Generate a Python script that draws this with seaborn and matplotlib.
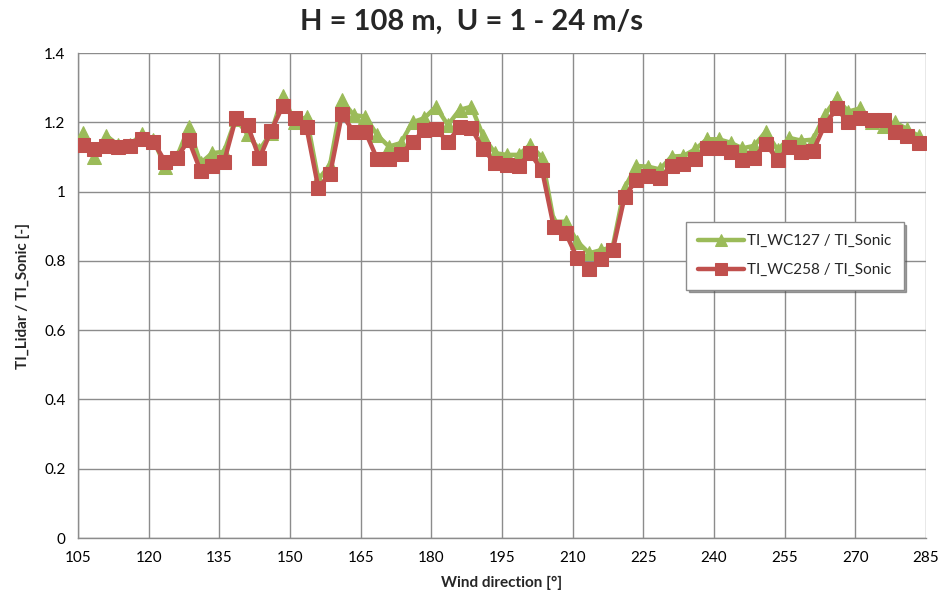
import numpy as np
import pandas as pd
import matplotlib
matplotlib.use("Agg")
import matplotlib.pyplot as plt
import seaborn as sns

# Wind direction bins [deg]
direction = [106 + 2.5 * i for i in range(72)]

# TI_WC127 / TI_Sonic
wc127 = [1.17, 1.101, 1.161, 1.135, 1.135, 1.165, 1.15, 1.072, 1.10, 1.185,
         1.082, 1.111, 1.115, 1.21, 1.165, 1.12, 1.17, 1.277, 1.20, 1.215,
         1.035, 1.077, 1.264, 1.221, 1.216, 1.163, 1.13, 1.14, 1.20, 1.212,
         1.245, 1.192, 1.236, 1.245, 1.16, 1.111, 1.106, 1.106, 1.135, 1.098,
         0.913, 0.913, 0.855, 0.822, 0.831, 0.84, 1.01, 1.074, 1.072, 1.064,
         1.101, 1.103, 1.122, 1.151, 1.151, 1.141, 1.125, 1.132, 1.173, 1.120,
         1.155, 1.147, 1.15, 1.221, 1.269, 1.231, 1.240, 1.20, 1.19, 1.20,
         1.18, 1.16]

# TI_WC258 / TI_Sonic
wc258 = [1.135, 1.123, 1.132, 1.128, 1.133, 1.152, 1.144, 1.086, 1.098, 1.149,
         1.060, 1.074, 1.086, 1.212, 1.192, 1.096, 1.176, 1.248, 1.212, 1.185,
         1.011, 1.050, 1.223, 1.173, 1.173, 1.094, 1.094, 1.108, 1.143, 1.178,
         1.180, 1.144, 1.185, 1.183, 1.122, 1.083, 1.077, 1.075, 1.110, 1.062,
         0.897, 0.881, 0.807, 0.776, 0.805, 0.831, 0.984, 1.034, 1.044, 1.040,
         1.073, 1.079, 1.093, 1.125, 1.125, 1.113, 1.090, 1.098, 1.138, 1.092,
         1.128, 1.114, 1.117, 1.192, 1.240, 1.201, 1.213, 1.206, 1.206, 1.173,
         1.160, 1.141]

series_names = ["TI_WC127 / TI_Sonic", "TI_WC258 / TI_Sonic"]
x_ticks = [105, 120, 135, 150, 165, 180, 195, 210, 225, 240, 255, 270, 285]
y_ticks = [0, 0.2, 0.4, 0.6, 0.8, 1, 1.2, 1.4]
y_tick_labels = ["0", "0.2", "0.4", "0.6", "0.8", "1", "1.2", "1.4"]

df1 = pd.DataFrame({"dir": direction, "ratio": wc127})
df2 = pd.DataFrame({"dir": direction, "ratio": wc258})

sns.set_style("white")
plt.rcParams["font.family"] = ["Lato", "DejaVu Sans"]

fig = plt.figure(figsize=(9.49, 6.01), dpi=100)
ax = fig.add_axes([0.0822, 0.1048, 0.8936, 0.807])

green = "#9BBB59"
red = "#C0504D"

sns.lineplot(data=df1, x="dir", y="ratio", ax=ax, color=green, lw=3.2,
             marker="^", markersize=9.5, markeredgecolor=green,
             markerfacecolor=green, label=series_names[0], zorder=3)
sns.lineplot(data=df2, x="dir", y="ratio", ax=ax, color=red, lw=3.2,
             marker="s", markersize=10, markeredgecolor=red,
             markerfacecolor=red, label=series_names[1], zorder=4)

ax.set_xlim(105, 285)
ax.set_ylim(0, 1.4)
ax.set_xticks(x_ticks)
ax.set_xticklabels([str(t) for t in x_ticks], fontsize=11)
ax.set_yticks(y_ticks)
ax.set_yticklabels(y_tick_labels, fontsize=11)

ax.grid(True, color="#8c8c8c", lw=1.0)
ax.set_axisbelow(True)
for s in ["top", "right"]:
    ax.spines[s].set_visible(False)
for s in ["left", "bottom"]:
    ax.spines[s].set_color("#8c8c8c")
    ax.spines[s].set_linewidth(1.0)
ax.tick_params(axis="both", which="both", direction="out", length=5,
               color="#8c8c8c", width=1.0, labelcolor="black", pad=4)

ax.set_xlabel("Wind direction [°]", fontsize=11, fontweight="bold", labelpad=8)
ax.set_ylabel("TI_Lidar / TI_Sonic [-]", fontsize=11, fontweight="bold", labelpad=10)
fig.text(0.497, 0.963, "H = 108 m,  U = 1 - 24 m/s", fontsize=21,
         fontweight="bold", ha="center", va="center")

leg = ax.legend(loc="upper left", bbox_to_anchor=(0.717, 0.652), frameon=True,
                fancybox=False, shadow=True, fontsize=11, handlelength=3.0,
                borderpad=0.8, labelspacing=1.0, handletextpad=0.2,
                borderaxespad=0.0, markerscale=0.85)
leg.get_frame().set_edgecolor("#8c8c8c")
leg.get_frame().set_linewidth(1.0)

fig.savefig("out.png", dpi=100)
